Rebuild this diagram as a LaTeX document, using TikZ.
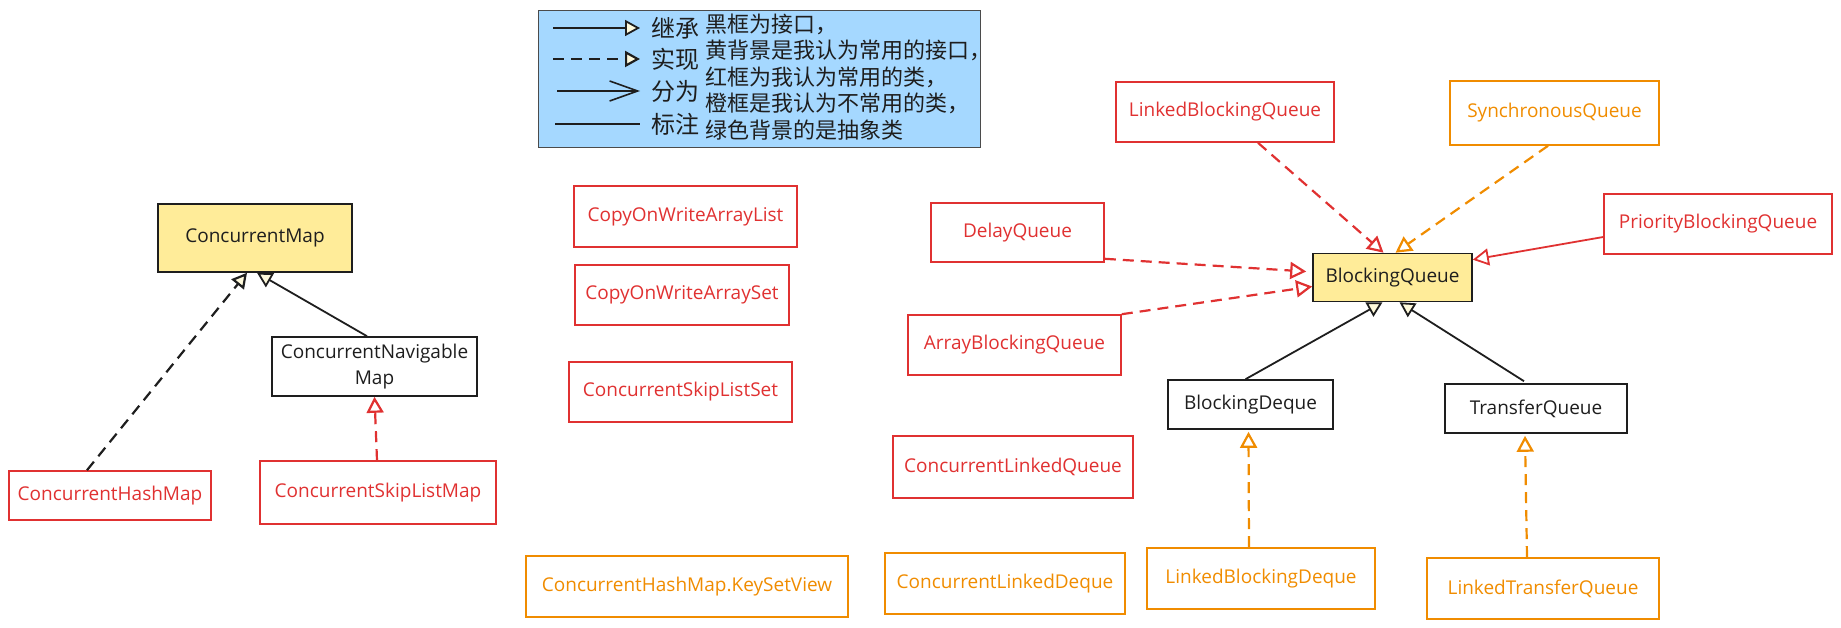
\documentclass[tikz,border=0pt]{standalone}
\usepackage{fontspec}
\setmainfont{Open Sans}
\newfontfamily\cjk{Noto Sans CJK SC}
\usetikzlibrary{arrows.meta}
\definecolor{ink}{RGB}{30,30,30}
\definecolor{redline}{RGB}{224,49,49}
\definecolor{orangeline}{RGB}{240,140,0}
\definecolor{paleyellow}{RGB}{255,236,153}
\definecolor{paleblue}{RGB}{165,216,255}
\definecolor{cream}{RGB}{255,250,220}

\begin{document}
\begin{tikzpicture}[x=1pt, y=-1pt,
    every node/.style={font=\fontsize{19}{26}\selectfont},
    box/.style={draw, line width=1.6pt, inner sep=0pt, align=center},
    iface/.style={box, draw=ink, text=ink},
    favif/.style={iface, fill=paleyellow},
    cls/.style={box, draw=redline, text=redline},
    rarecls/.style={box, draw=orangeline, text=orangeline},
    tipw/.style={-{Triangle[length=16pt,width=17pt,fill=white]}},
    tipc/.style={-{Triangle[length=15pt,width=16pt,fill=cream]}},
    impl/.style={line width=2.2pt, dash pattern=on 11pt off 7pt, tipw},
    inherit/.style={draw=ink, line width=1.8pt, tipc}]
    \useasboundingbox (0,0) rectangle (1841,628);

    % legend
    \node[draw=ink!80, line width=1pt, fill=paleblue, minimum width=442, minimum height=137, inner sep=0pt] (legend) at (759,79.5) {};
    \foreach \n/\y/\t in {a/28/继承, b/59/实现, c/91/分为, d/124/标注} {
        \coordinate (s\n) at (553,\y);
        \coordinate (e\n) at (640,\y);
        \node[font=\cjk\fontsize{24}{24}\selectfont, text=ink] (l\n) at (675,\y) {\t};
    }
    \draw[inherit] (sa) -- (ea);
    \draw[impl, draw=ink, tipc] (sb) -- (eb);
    \draw[ink, line width=1.6pt, -{Straight Barb[length=28pt,width=20pt]}] ([xshift=4pt]sc) -- (ec);
    \draw[ink, line width=1.6pt] ([xshift=2pt]sd) -- (ed);
    \node[font=\cjk\fontsize{22}{26.5}\selectfont, text=ink, align=left, anchor=west, inner sep=0pt] (legtext) at (705,77)
        {黑框为接口，\\黄背景是我认为常用的接口，\\红框为我认为常用的类，\\橙框是我认为不常用的类，\\绿色背景的是抽象类};

    % maps
    \node[favif, minimum width=194, minimum height=68] (cmap) at (255,238) {ConcurrentMap};
    \node[iface, minimum width=205, minimum height=59] (cnav) at (374.5,366.5) {ConcurrentNavigable\\Map};
    \node[cls, minimum width=202, minimum height=49] (chm) at (110,495.5) {ConcurrentHashMap};
    \node[cls, minimum width=236, minimum height=63] (cslm) at (378,492.5) {ConcurrentSkipListMap};

    % lists and sets
    \node[cls, minimum width=223, minimum height=61] (cowal) at (685.5,216.5) {CopyOnWriteArrayList};
    \node[cls, minimum width=214, minimum height=60] (cowas) at (682,295) {CopyOnWriteArraySet};
    \node[cls, minimum width=223, minimum height=60] (csls) at (680.5,392) {ConcurrentSkipListSet};
    \node[rarecls, minimum width=322, minimum height=61] (ksv) at (687,586.5) {ConcurrentHashMap.KeySetView};

    % queues
    \node[cls, minimum width=173, minimum height=59] (dq) at (1017.5,232.5) {DelayQueue};
    \node[cls, minimum width=213, minimum height=60] (abq) at (1014.5,345) {ArrayBlockingQueue};
    \node[cls, minimum width=240, minimum height=62] (clq) at (1013,467) {ConcurrentLinkedQueue};
    \node[rarecls, minimum width=240, minimum height=61] (cld) at (1005,583.5) {ConcurrentLinkedDeque};
    \node[cls, minimum width=218, minimum height=60] (lbq) at (1225,112) {LinkedBlockingQueue};
    \node[rarecls, minimum width=209, minimum height=64] (sq) at (1554.5,113) {SynchronousQueue};
    \node[cls, minimum width=228, minimum height=60] (pbq) at (1718,224) {PriorityBlockingQueue};
    \node[favif, minimum width=159, minimum height=48] (bq) at (1392.5,277.5) {BlockingQueue};
    \node[iface, minimum width=165, minimum height=49] (bdq) at (1250.5,404.5) {BlockingDeque};
    \node[iface, minimum width=182, minimum height=49] (tq) at (1536,408.5) {TransferQueue};
    \node[rarecls, minimum width=228, minimum height=61] (lbd) at (1261,578.5) {LinkedBlockingDeque};
    \node[rarecls, minimum width=232, minimum height=61] (ltq) at (1543,588.5) {LinkedTransferQueue};

    % arrows
    \draw[impl, draw=ink, tipc] ([xshift=-23pt]chm.north) -- ([xshift=-8pt]cmap.south);
    \draw[inherit] ([xshift=-7.5pt]cnav.north) -- ([xshift=2pt]cmap.south);
    \draw[impl, draw=redline] ([xshift=-1pt]cslm.north) -- (cnav.south);
    \draw[impl, draw=redline] ([xshift=33pt]lbq.south) -- ([xshift=-9pt]bq.north);
    \draw[impl, draw=orangeline] ([xshift=-6.5pt]sq.south) -- ([xshift=3pt]bq.north);
    \draw[redline, line width=1.8pt, tipw] ([yshift=-13pt]pbq.west) -- ([yshift=-7pt]bq.north east);
    \draw[impl, draw=redline] ([yshift=4pt]dq.south east) -- ([xshift=-6pt,yshift=6pt]bq.west);
    \draw[impl, draw=redline] (abq.north east) -- ([yshift=-9pt]bq.west);
    \draw[inherit] ([xshift=-5pt]bdq.north) -- ([xshift=-10pt]bq.south);
    \draw[inherit] ([xshift=-12pt,yshift=2pt]tq.north) -- ([xshift=7pt]bq.south);
    \draw[impl, draw=orangeline] ([xshift=-12pt]lbd.north) -- ([xshift=-2pt,yshift=-2pt]bdq.south);
    \draw[impl, draw=orangeline] ([xshift=-16pt]ltq.north) -- ([xshift=-11pt,yshift=-2pt]tq.south);
\end{tikzpicture}
\end{document}
